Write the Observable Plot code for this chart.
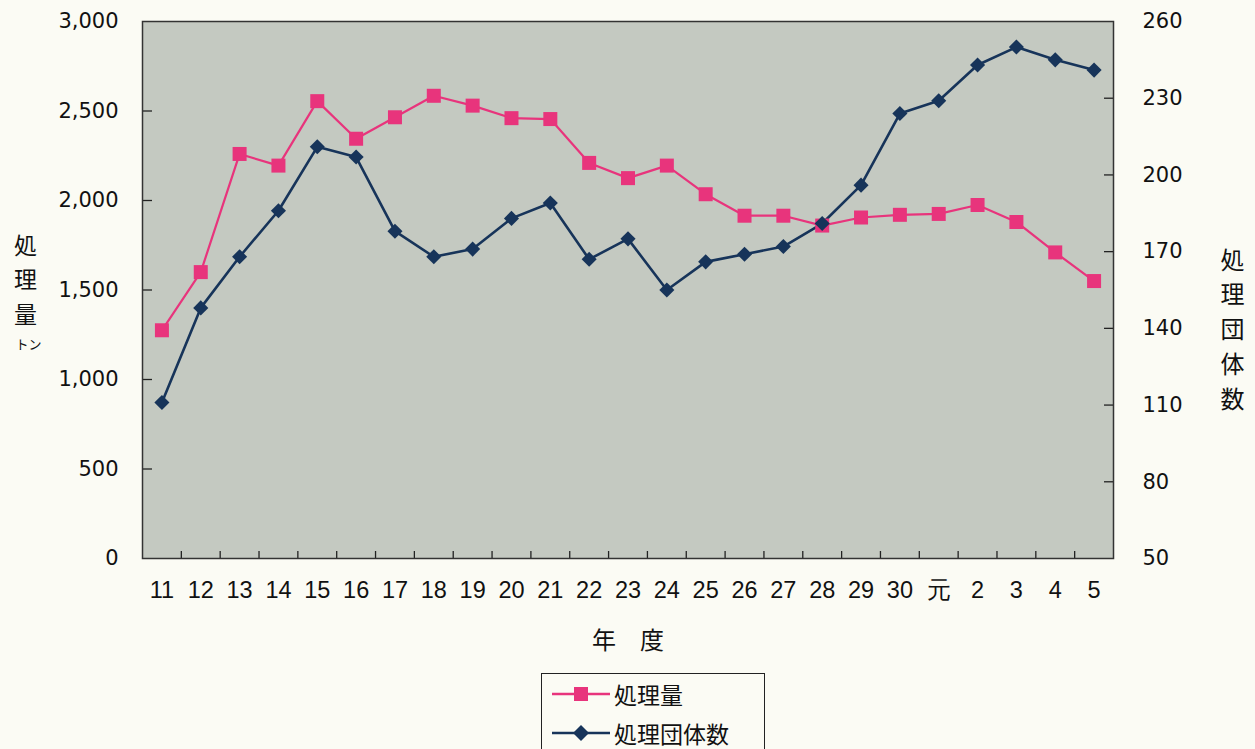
<!DOCTYPE html>
<html>
<head>
<meta charset="utf-8">
<script src="https://cdn.jsdelivr.net/npm/d3@7"></script>
<script src="https://cdn.jsdelivr.net/npm/@observablehq/plot@0.6"></script>
<style>
  html, body { margin: 0; padding: 0; background: #fbfbf4; }
  #chart svg { display: block; background: transparent; }
  #legend {
    margin-left: 541px; margin-top: 11px; width: 224px; height: 80px;
    border: 1px solid #222; box-sizing: border-box; padding: 0 0 0 10px;
    font-family: "Noto Sans CJK JP", sans-serif; font-size: 23px; color: #111;
  }
  #legend .row { display: flex; align-items: center; height: 39px; }
  #legend svg { margin-right: 4px; }
</style>
</head>
<body>
<div id="chart"></div>
<div id="legend"></div>
<script>
const years = ["11","12","13","14","15","16","17","18","19","20","21","22","23","24","25","26","27","28","29","30","元","2","3","4","5"];
const amount = [1275,1600,2260,2195,2555,2345,2465,2585,2530,2460,2455,2210,2125,2195,2035,1915,1915,1860,1905,1920,1925,1975,1880,1710,1550];
const groups = [111,148,168,186,211,207,178,168,171,183,189,167,175,155,166,169,172,181,196,224,229,243,250,245,241];
const leftTicks = [0,500,1000,1500,2000,2500,3000];
const rightTicks = [50,80,110,140,170,200,230,260];
const seriesNames = ["処理量","処理団体数"];
const colors = ["#e8347c","#17345a"];

const toLeft = v => (v - 50) / 210 * 3000;
const fromLeft = y => Math.round(y / 3000 * 210 + 50);

const rowsA = years.map((y, i) => ({i, v: amount[i]}));
const rowsB = years.map((y, i) => ({i, v: toLeft(groups[i])}));
const idx = years.map((y, i) => i);
const bounds = idx.slice(0, -1).map(i => i + 0.5);
const blank = () => "";

const num = "DejaVu Sans, sans-serif";
const cjk = "Noto Sans CJK JP, sans-serif";
const plot = Plot.plot({
  width: 1255,
  height: 662,
  marginLeft: 142,
  marginRight: 142,
  marginTop: 21,
  marginBottom: 104,
  style: {fontFamily: num, fontSize: "21px", color: "#111", background: "transparent"},
  x: {domain: [-0.5, years.length - 0.5]},
  y: {domain: [0, 3000]},
  marks: [
    Plot.frame({fill: "#c4c9c1"}),
    // x axis: inward boundary ticks + labels
    Plot.axisX({ticks: bounds, tickSize: -7, tickFormat: blank, label: null, stroke: "#222", strokeWidth: 1.3}),
    Plot.axisX({ticks: idx, tickSize: 0, tickPadding: 23, tickFormat: i => years[i], label: null,
      fontFamily: "Liberation Sans, sans-serif", fontSize: 23.5, fill: "#111"}),
    // left axis
    Plot.axisY({anchor: "left", ticks: leftTicks.slice(1, -1), tickSize: -10, tickFormat: blank, label: null, stroke: "#222", strokeWidth: 1.3}),
    Plot.axisY({anchor: "left", ticks: leftTicks, tickSize: 0, tickPadding: 24, tickFormat: d3.format(","), label: null, fill: "#111"}),
    // right axis
    Plot.axisY({anchor: "right", ticks: rightTicks.slice(1, -1).map(toLeft), tickSize: -10, tickFormat: blank, label: null, stroke: "#222", strokeWidth: 1.3}),
    Plot.axisY({anchor: "right", ticks: rightTicks.map(toLeft), tickSize: 0, tickPadding: 29, tickFormat: fromLeft, label: null, fill: "#111"}),
    // series
    Plot.line(rowsA, {x: "i", y: "v", stroke: colors[0], strokeWidth: 2.2}),
    Plot.line(rowsB, {x: "i", y: "v", stroke: colors[1], strokeWidth: 2.6}),
    Plot.dot(rowsA, {x: "i", y: "v", symbol: "square", r: 7.9, fill: colors[0], stroke: "none"}),
    Plot.dot(rowsB, {x: "i", y: "v", symbol: "diamond2", r: 6.8, fill: colors[1], stroke: "none"}),
    Plot.frame({stroke: "#333", strokeWidth: 1.5}),
    // axis titles
    Plot.text(["処\n理\n量"], {frameAnchor: "left", dx: -117, dy: -13, lineHeight: 1.5, fontSize: 23,
      fontFamily: cjk, fill: "#111", textAnchor: "middle"}),
    Plot.text(["トン"], {frameAnchor: "left", dx: -114, dy: 55, fontSize: 13,
      fontFamily: cjk, fill: "#111", textAnchor: "middle"}),
    Plot.text(["処\n理\n団\n体\n数"], {frameAnchor: "right", dx: 119, dy: 37, lineHeight: 1.45, fontSize: 24,
      fontFamily: cjk, fill: "#111", textAnchor: "middle"}),
    Plot.text(["年　度"], {frameAnchor: "bottom", dy: 90, fontSize: 24,
      fontFamily: cjk, fill: "#111", textAnchor: "middle"})
  ]
});
document.getElementById("chart").appendChild(plot);

// legend
const legend = document.getElementById("legend");
seriesNames.forEach((name, k) => {
  const row = document.createElement("div");
  row.className = "row";
  const marker = k === 0
    ? `<rect x="22" y="5" width="14" height="14" fill="${colors[0]}"/>`
    : `<path d="M29,4 L37,12 L29,20 L21,12 Z" fill="${colors[1]}"/>`;
  row.innerHTML = `<svg width="58" height="24"><line x1="0" x2="58" y1="12" y2="12" stroke="${colors[k]}" stroke-width="2.5"/>${marker}</svg><span>${name}</span>`;
  legend.appendChild(row);
});
</script>
</body>
</html>
